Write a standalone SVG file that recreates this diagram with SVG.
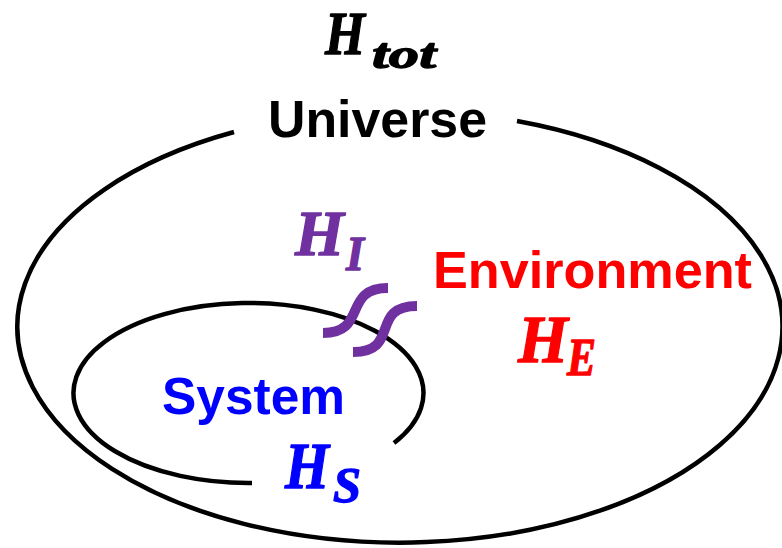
<svg xmlns="http://www.w3.org/2000/svg" width="782" height="548" viewBox="0 0 782 548">
  <style>
    .boundary { fill: none; stroke: #000; stroke-width: 4.5; }
    .label { font-family: "Liberation Sans", Arial, sans-serif; font-weight: bold; font-size: 52px; }
    .math { font-family: "Liberation Serif", "Times New Roman", serif; font-weight: bold; font-style: italic; stroke-width: 1.3; stroke-linejoin: round; }
    .coupling { fill: none; stroke: #7030A0; stroke-width: 10; stroke-linecap: butt; }
  </style>
  <rect width="782" height="548" fill="#fff"/>

  <g id="htot">
    <text class="math" fill="#000" stroke="#000"><tspan x="325" y="54" font-size="62" textLength="40" lengthAdjust="spacingAndGlyphs">H</tspan><tspan x="372" y="68" font-size="42" textLength="64" lengthAdjust="spacingAndGlyphs">tot</tspan></text>
  </g>

  <g id="universe">
    <path class="boundary" d="M 517 121 A 382.5 216 0 1 1 234 132"/>
    <text class="label" x="268" y="137" fill="#000" textLength="219" lengthAdjust="spacingAndGlyphs">Universe</text>
  </g>

  <g id="environment">
    <text class="label" x="433" y="288" fill="#FF0000" textLength="319" lengthAdjust="spacingAndGlyphs">Environment</text>
    <text class="math" fill="#FF0000" stroke="#FF0000"><tspan x="518" y="362" font-size="68" textLength="50" lengthAdjust="spacingAndGlyphs">H</tspan><tspan x="567" y="375" font-size="52" textLength="29" lengthAdjust="spacingAndGlyphs">E</tspan></text>
  </g>

  <g id="system">
    <path class="boundary" d="M 252 483 A 175 90 0 1 1 394 443"/>
    <text class="label" x="162" y="414" fill="#0000FF" textLength="183" lengthAdjust="spacingAndGlyphs">System</text>
    <text class="math" fill="#0000FF" stroke="#0000FF"><tspan x="285" y="488" font-size="66" textLength="44" lengthAdjust="spacingAndGlyphs">H</tspan><tspan x="333" y="502" font-size="50" textLength="28" lengthAdjust="spacingAndGlyphs">S</tspan></text>
  </g>

  <g id="interaction">
    <text class="math" fill="#7030A0" stroke="#7030A0"><tspan x="295" y="255" font-size="64" textLength="49" lengthAdjust="spacingAndGlyphs">H</tspan><tspan x="346" y="270" font-size="48" textLength="18" lengthAdjust="spacingAndGlyphs">I</tspan></text>
  </g>

  <g id="connectors">
    <path class="coupling" d="M 323 333 C 368 333 342 288 388 288"/>
    <path class="coupling" d="M 353 352 C 401 352 369 306 417 306"/>
  </g>
</svg>
